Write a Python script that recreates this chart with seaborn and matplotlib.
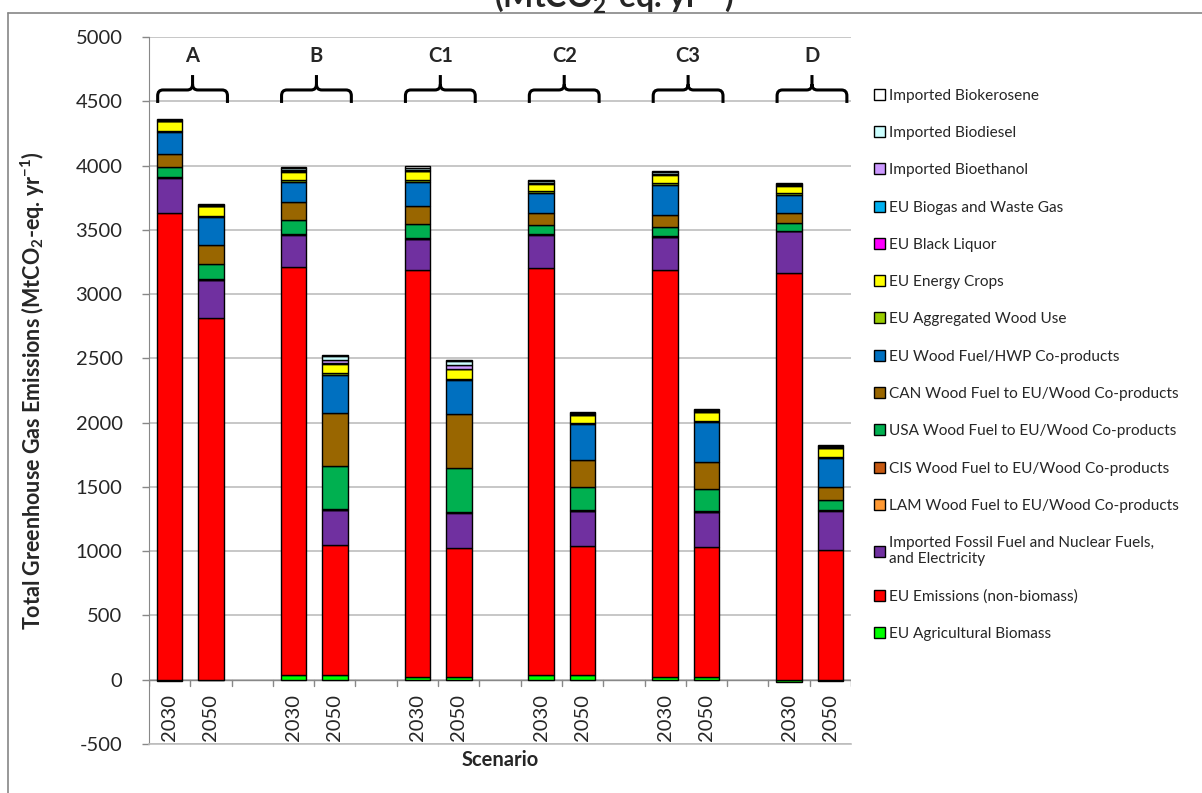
import numpy as np
import matplotlib.pyplot as plt
import seaborn as sns
from matplotlib.path import Path
from matplotlib.patches import PathPatch, Patch
from matplotlib.lines import Line2D

# --- data (MtCO2-eq. per year), one value per bar ---
scenarios = ['A', 'B', 'C1', 'C2', 'C3', 'D']
years = ['2030', '2050']
# bar order: A2030, A2050, B2030, B2050, C1..., D2050

eu_ag_biomass = [-10, -5, 40, 40, 25, 25, 40, 40, 25, 25, -15, -10]
eu_emissions = [3630, 2815, 3167, 1005, 3165, 1000, 3163, 1002, 3165, 1007, 3164, 1011]
imported_fossil = [277, 294, 255, 275, 240, 275, 260, 272, 255, 270, 323, 304]
lam_wood = [2, 2, 2, 2, 2, 2, 2, 2, 2, 2, 2, 2]
cis_wood = [5, 5, 5, 5, 5, 5, 5, 5, 5, 5, 5, 5]
usa_wood = [78, 119, 108, 332, 112, 340, 70, 177, 70, 171, 58, 78]
can_wood = [100, 148, 138, 416, 137, 422, 93, 212, 95, 215, 81, 99]
eu_wood_fuel = [169, 215, 155, 299, 189, 259, 156, 280, 228, 308, 140, 226]
eu_aggregated_wood = [5, 10, 15, 15, 15, 12, 12, 8, 18, 8, 10, 8]
eu_energy_crops = [78, 76, 67, 70, 65, 75, 59, 60, 65, 70, 60, 70]
eu_black_liquor = [0, 0, 0, 0, 0, 0, 0, 0, 0, 0, 0, 0]
eu_biogas = [2, 2, 3, 3, 3, 3, 3, 3, 3, 3, 3, 3]
imported_bioethanol = [3, 3, 10, 28, 6, 28, 5, 5, 5, 5, 4, 4]
imported_biodiesel = [5, 5, 15, 30, 20, 30, 8, 8, 10, 10, 6, 6]
imported_biokerosene = [8, 5, 10, 8, 10, 10, 12, 10, 12, 10, 8, 8]

components = [
    ('EU Agricultural Biomass', eu_ag_biomass, '#00FF00'),
    ('EU Emissions (non-biomass)', eu_emissions, '#FF0000'),
    ('Imported Fossil Fuel and Nuclear Fuels,\nand Electricity', imported_fossil, '#7030A0'),
    ('LAM Wood Fuel to EU/Wood Co-products', lam_wood, '#FF9933'),
    ('CIS Wood Fuel to EU/Wood Co-products', cis_wood, '#C65911'),
    ('USA Wood Fuel to EU/Wood Co-products', usa_wood, '#00B050'),
    ('CAN Wood Fuel to EU/Wood Co-products', can_wood, '#996600'),
    ('EU Wood Fuel/HWP Co-products', eu_wood_fuel, '#0070C0'),
    ('EU Aggregated Wood Use', eu_aggregated_wood, '#99CC00'),
    ('EU Energy Crops', eu_energy_crops, '#FFFF00'),
    ('EU Black Liquor', eu_black_liquor, '#FF00FF'),
    ('EU Biogas and Waste Gas', eu_biogas, '#00B0F0'),
    ('Imported Bioethanol', imported_bioethanol, '#CC99FF'),
    ('Imported Biodiesel', imported_biodiesel, '#CCFFFF'),
    ('Imported Biokerosene', imported_biokerosene, '#FFFFFF'),
]

sns.set_style('white')
plt.rcParams['font.family'] = ['Lato', 'DejaVu Sans']
plt.rcParams['axes.unicode_minus'] = False
plt.rcParams['mathtext.fontset'] = 'custom'
plt.rcParams['mathtext.rm'] = 'Lato:bold'
plt.rcParams['mathtext.it'] = 'Lato:bold'
plt.rcParams['mathtext.bf'] = 'Lato:bold'
plt.rcParams['mathtext.default'] = 'rm'

fig = plt.figure(figsize=(12.02, 7.93), dpi=100)
ax = fig.add_axes([149 / 1202, 1 - 744 / 793, 702 / 1202, 707 / 793])

# x positions: two bars per scenario, one empty slot between scenarios
xpos = np.array([3 * i + j for i in range(len(scenarios)) for j in range(len(years))])

pos_bottom = np.zeros(len(xpos))
neg_bottom = np.zeros(len(xpos))
for name, vals, col in components:
    v = np.array(vals, dtype=float)
    bottom = np.where(v >= 0, pos_bottom, neg_bottom)
    m = v != 0
    ax.bar(xpos[m], v[m], bottom=bottom[m], width=0.62, color=col,
           edgecolor='black', linewidth=1.0, zorder=3)
    pos_bottom += np.where(v > 0, v, 0)
    neg_bottom += np.where(v < 0, v, 0)

grid_col = '#BDBDBD'
ax.set_xlim(-0.5, 16.5)
ax.set_ylim(-500, 5000)
ax.set_yticks(np.arange(-500, 5001, 500))
ax.yaxis.grid(True, color=grid_col, linewidth=1.2, zorder=0)
ax.tick_params(axis='y', labelsize=14.5, length=5, width=1, color='#888888',
               pad=14, left=True)
ax.set_xticks([])
for s in ['top', 'right']:
    ax.spines[s].set_visible(False)
ax.spines['left'].set_color('#888888')
ax.spines['bottom'].set_color(grid_col)
ax.spines['bottom'].set_linewidth(1.2)

# category axis crossing at zero
ax.axhline(0, color='#888888', linewidth=1, zorder=2)
for k in range(18):
    ax.plot([k - 0.5, k - 0.5], [0, -45], color='#888888', linewidth=1, zorder=2)
for x, lab in zip(xpos, years * len(scenarios)):
    ax.text(x, -110, lab, rotation=90, ha='center', va='top', fontsize=14.5)

# scenario labels with curly braces
y0, y1, y2 = 4487, 4588, 4704
rx, ry = 0.13, 45
for i, sc in enumerate(scenarios):
    L, R, M = 3 * i - 0.29, 3 * i + 1.40, 3 * i + 0.555
    verts = [(L, y0), (L, y1 - ry), (L, y1), (L + rx, y1), (M - rx, y1),
             (M, y1), (M, y1 + ry), (M, y2),
             (M, y1 + ry), (M, y1), (M + rx, y1), (R - rx, y1),
             (R, y1), (R, y1 - ry), (R, y0)]
    codes = [Path.MOVETO, Path.LINETO, Path.CURVE3, Path.CURVE3, Path.LINETO,
             Path.CURVE3, Path.CURVE3, Path.LINETO,
             Path.MOVETO, Path.CURVE3, Path.CURVE3, Path.LINETO,
             Path.CURVE3, Path.CURVE3, Path.LINETO]
    ax.add_patch(PathPatch(Path(verts, codes), facecolor='none', edgecolor='black',
                           linewidth=2.2, capstyle='butt', zorder=4))
    ax.text(M, 4850, sc, ha='center', va='center', fontsize=14.5, weight='bold')

ax.set_ylabel(r'Total Greenhouse Gas Emissions (MtCO$_2$-eq. yr$^{-1}$)',
              fontsize=15.5, weight='bold')
ax.yaxis.set_label_coords(-0.145, 0.5)
ax.set_xlabel('Scenario', fontsize=14.5, weight='bold')
ax.xaxis.set_label_coords(0.5, -0.008)

# legend, top entry = top of the stack
handles = [Patch(facecolor=c, edgecolor='black', linewidth=1) for _, _, c in components][::-1]
labels = [n for n, _, _ in components][::-1]
fig.legend(handles, labels, loc='upper left', bbox_to_anchor=(866 / 1202, 1 - 81 / 793),
           frameon=False, fontsize=11.1, handlelength=0.72, handleheight=0.72,
           handletextpad=0.3, labelspacing=1.51, borderpad=0)

# chart-area border and the clipped title
fig.add_artist(Line2D([8 / 1202, 1], [1 - 12.7 / 793] * 2, color='#868686', linewidth=1.2))
fig.add_artist(Line2D([8 / 1202] * 2, [0, 1 - 12.7 / 793], color='#868686', linewidth=1.2))
fig.text(614 / 1202, 1 - 8 / 793, r'(MtCO$_2$-eq. yr$^{-1}$)', ha='center', va='baseline',
         fontsize=23, weight='bold')

fig.savefig('out.png', dpi=100)
